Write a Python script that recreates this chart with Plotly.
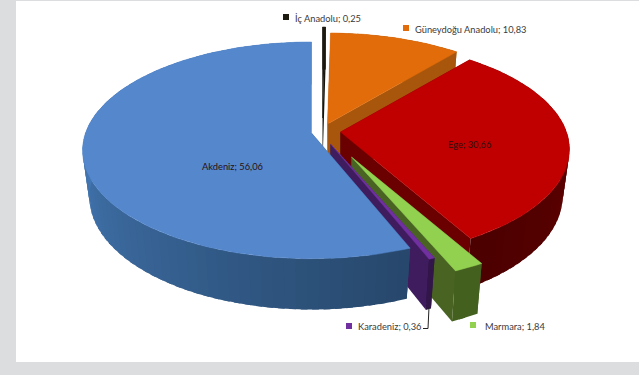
import math
import plotly.graph_objects as go

W, H = 639, 375

# ---- data ----
categories = ["İç Anadolu", "Güneydoğu Anadolu", "Ege", "Marmara", "Karadeniz", "Akdeniz"]
values = [0.25, 10.83, 30.66, 1.84, 0.36, 56.06]
value_labels = ["0,25", "10,83", "30,66", "1,84", "0,36", "56,06"]

# ---- style: top colour, side colour (light end), side colour (dark end), slice offset px ----
top_colors = ["#1D1B10", "#E36C0A", "#C00000", "#92D050", "#7030A0", "#5587CC"]
side_light = ["#15130B", "#A8560C", "#6A0000", "#486322", "#3E1C5E", "#4478B4"]
side_dark = ["#15130B", "#8E480A", "#480000", "#44601F", "#321649", "#27486C"]
offset_x = [-4, 1, 14, 25, 4, -15]
offset_y = [-14, -8, 0, 25, 12, 1]

# ---- projection of the pie plane ----
CX, CY, RX, RY, P, DEPTH, Q = 326.5, 132.0, 226.0, 105.6, 0.16, 48.0, 0.03


def project(i, a, b, z=0.0):
    w = 1 + P * b + Q * z
    return (CX + RX * a / w + offset_x[i], CY - RY * b / w + DEPTH * z / w + offset_y[i])


def pt(i, theta, z=0.0, r=1.0):
    t = math.radians(theta)
    return project(i, r * math.sin(t), r * math.cos(t), z)


def mix(c1, c2, f):
    a = [int(c1[k:k + 2], 16) for k in (1, 3, 5)]
    b = [int(c2[k:k + 2], 16) for k in (1, 3, 5)]
    return "#%02X%02X%02X" % tuple(round(x + (y - x) * f) for x, y in zip(a, b))


fig = go.Figure()


def poly(points, color, lw=0.0):
    xs = [p[0] for p in points] + [points[0][0]]
    ys = [p[1] for p in points] + [points[0][1]]
    fig.add_trace(go.Scatter(x=xs, y=ys, mode="lines", fill="toself", fillcolor=color,
                             line=dict(color=color, width=lw), hoverinfo="skip", showlegend=False))


# slice angular spans, clockwise from the top
total = sum(values)
spans, acc = [], 0.0
for v in values:
    spans.append((acc, acc + v / total * 360))
    acc += v / total * 360


def draw_slice(i):
    s, e = spans[i]
    # radial faces
    poly([pt(i, s, 0, 0), pt(i, s, 0), pt(i, s, 1), pt(i, s, 1, 0)], side_dark[i])
    poly([pt(i, e, 0, 0), pt(i, e, 0), pt(i, e, 1), pt(i, e, 1, 0)], side_light[i])
    # rim, as shaded strips that overlap so no seams show
    n = max(2, int((e - s) / 2.5))
    for k in range(n):
        t0 = s + (e - s) * k / n
        t1 = min(e, s + (e - s) * (k + 1) / n + 1.5)
        mid = s + (e - s) * (k + 0.5) / n
        if i == 5:
            f = min(1, max(0, (270 - mid) / 110))
        else:
            f = min(1, max(0, (mid - 60) / 100))
        poly([pt(i, t0), pt(i, t1), pt(i, t1, 1), pt(i, t0, 1)], mix(side_light[i], side_dark[i], f))
    # top
    n = max(2, int((e - s) / 1.5))
    top = [pt(i, 0, 0, 0)] + [pt(i, s + (e - s) * k / n) for k in range(n + 1)]
    poly(top, top_colors[i], 0.5)


# back to front
for i in [0, 1, 2, 3, 4, 5]:
    draw_slice(i)

# ---- labels ----
label_xy = {"İç Anadolu": (294, 18), "Güneydoğu Anadolu": (414, 29), "Karadeniz": (357, 326),
            "Marmara": (484, 326)}
center_xy = {"Ege": (469, 144), "Akdeniz": (232, 166)}
square_xy = {"İç Anadolu": (286, 17), "Güneydoğu Anadolu": (406, 28), "Karadeniz": (349, 326),
             "Marmara": (473, 325)}
square_color = {"İç Anadolu": top_colors[0], "Güneydoğu Anadolu": top_colors[1],
                "Karadeniz": top_colors[4], "Marmara": top_colors[3]}
FONT = dict(family="Lato", size=9.3, color="#3A3A3A")
for name, val in zip(categories, value_labels):
    text = f"{name}; {val}"
    if name in label_xy:
        x, y = label_xy[name]
        fig.add_annotation(x=x, y=y, text=text, showarrow=False, xanchor="left", yanchor="middle",
                           font=FONT, xshift=-1)
        sx, sy = square_xy[name]
        fig.add_trace(go.Scatter(x=[sx], y=[sy], mode="markers", hoverinfo="skip", showlegend=False,
                                 marker=dict(symbol="square", size=6, color=square_color[name])))
    else:
        x, y = center_xy[name]
        fig.add_annotation(x=x, y=y, text=text, showarrow=False, xanchor="center", yanchor="middle",
                           font=dict(family="Lato", size=9.3, color="#2A1010"))

# leader line for Karadeniz
fig.add_trace(go.Scatter(x=[423, 428, 429], y=[328.5, 328.5, 307], mode="lines", hoverinfo="skip",
                         showlegend=False, line=dict(color="#222222", width=1)))

fig.update_layout(
    width=W, height=H, margin=dict(l=0, r=0, t=0, b=0), autosize=False,
    paper_bgcolor="#DCDDDF", plot_bgcolor="#DCDDDF", showlegend=False,
    xaxis=dict(range=[0, W], visible=False, fixedrange=True),
    yaxis=dict(range=[H, 0], visible=False, fixedrange=True),
    shapes=[dict(type="rect", layer="below", x0=16, x1=640, y0=1, y1=362,
                 fillcolor="white", line=dict(width=0))],
)
fig.write_html("out.html", config={"displayModeBar": False},
               post_script="document.body.style.margin='0';document.body.style.overflow='hidden';")
